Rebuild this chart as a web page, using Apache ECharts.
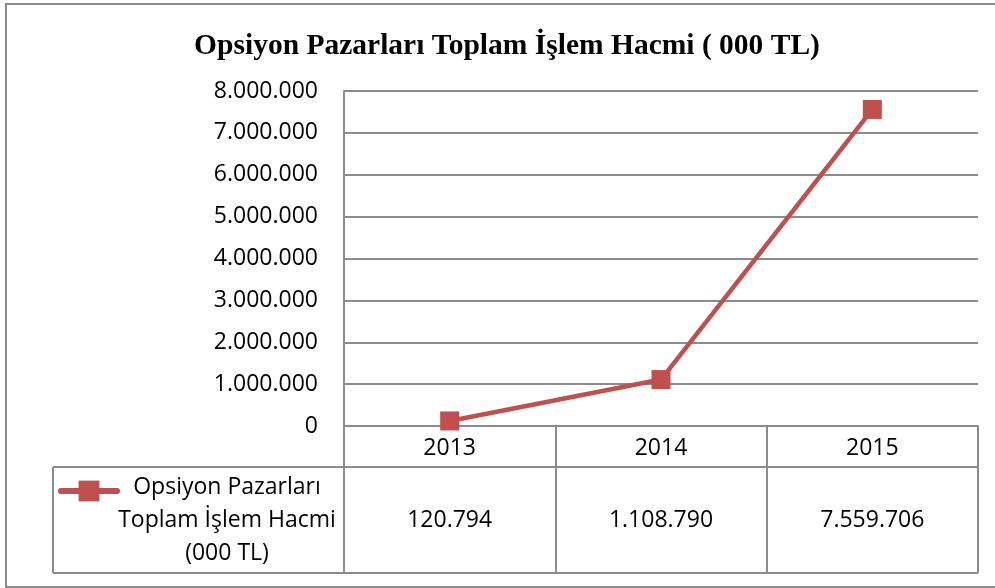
<!DOCTYPE html>
<html>
<head>
<meta charset="utf-8">
<script src="https://cdn.jsdelivr.net/npm/echarts@6/dist/echarts.min.js"></script>
<style>
  html, body { margin: 0; padding: 0; background: #fff; }
  #main { width: 995px; height: 588px; }
</style>
</head>
<body>
<div id="main"></div>
<script>
const years = ['2013', '2014', '2015'];
const volumes = [120794, 1108790, 7559706];
const seriesName = 'Opsiyon Pazarları Toplam İşlem Hacmi (000 TL)';
const legendLines = ['Opsiyon Pazarları', 'Toplam İşlem Hacmi', '(000 TL)'];

const gray = '#8c8c8c';
const red = '#c0504d';
const font = 'Open Sans';

// 1234567 -> 1.234.567
function dotted(v) {
  return String(v).replace(/\B(?=(\d{3})+(?!\d))/g, '.');
}

const chart = echarts.init(document.getElementById('main'));

chart.setOption({
  animation: false,
  backgroundColor: '#fff',
  title: {
    text: 'Opsiyon Pazarları Toplam İşlem Hacmi ( 000 TL)',
    left: 502,
    top: 26,
    textAlign: 'center',
    textStyle: {
      fontFamily: 'Liberation Serif',
      fontWeight: 'bold',
      fontSize: 29.5,
      color: '#000'
    }
  },
  legend: {
    left: 53,
    top: 473,
    itemWidth: 56,
    itemHeight: 26,
    formatter: function() { return ''; },
    lineStyle: { width: 6, cap: 'round' },
    data: [seriesName]
  },
  grid: {
    left: 344,
    right: 17,
    top: 91,
    bottom: 162
  },
  xAxis: [{
    type: 'category',
    data: years,
    boundaryGap: true,
    axisLine: { lineStyle: { color: gray, width: 2 } },
    axisTick: { show: true, length: 147, lineStyle: { color: gray, width: 2 } },
    axisLabel: { margin: 11, fontFamily: font, fontSize: 23, color: '#000' }
  }, {
    type: 'category',
    data: volumes.map(dotted),
    position: 'bottom',
    boundaryGap: true,
    axisLine: { show: false },
    axisTick: { show: false },
    axisLabel: { margin: 83, fontFamily: font, fontSize: 23, color: '#000' }
  }],
  yAxis: {
    type: 'value',
    min: 0,
    max: 8000000,
    interval: 1000000,
    axisLine: { show: true, lineStyle: { color: gray, width: 2 } },
    axisTick: { show: false },
    splitLine: { lineStyle: { color: gray, width: 2 } },
    axisLabel: {
      margin: 26,
      fontFamily: font,
      fontSize: 23,
      color: '#000',
      formatter: dotted
    }
  },
  series: [{
    name: seriesName,
    type: 'line',
    data: volumes,
    symbol: 'rect',
    symbolSize: 19,
    lineStyle: { color: red, width: 4.5 },
    itemStyle: { color: red }
  }],
  graphic: [
    // outer chart border
    { type: 'rect', shape: { x: 6, y: 4, width: 992, height: 583 }, style: { fill: null, stroke: gray, lineWidth: 2 } },
    // data table lines
    { type: 'line', shape: { x1: 53, y1: 467, x2: 978, y2: 467 }, style: { stroke: gray, lineWidth: 2 } },
    { type: 'line', shape: { x1: 53, y1: 573, x2: 978, y2: 573 }, style: { stroke: gray, lineWidth: 2 } },
    { type: 'line', shape: { x1: 53, y1: 467, x2: 53, y2: 573 }, style: { stroke: gray, lineWidth: 2 } },
    {
      type: 'text',
      x: 227,
      y: 471,
      style: {
        text: legendLines.join('\n'),
        align: 'center',
        verticalAlign: 'top',
        font: '23px "Open Sans"',
        lineHeight: 33,
        fill: '#000'
      }
    }
  ]
});
</script>
</body>
</html>
